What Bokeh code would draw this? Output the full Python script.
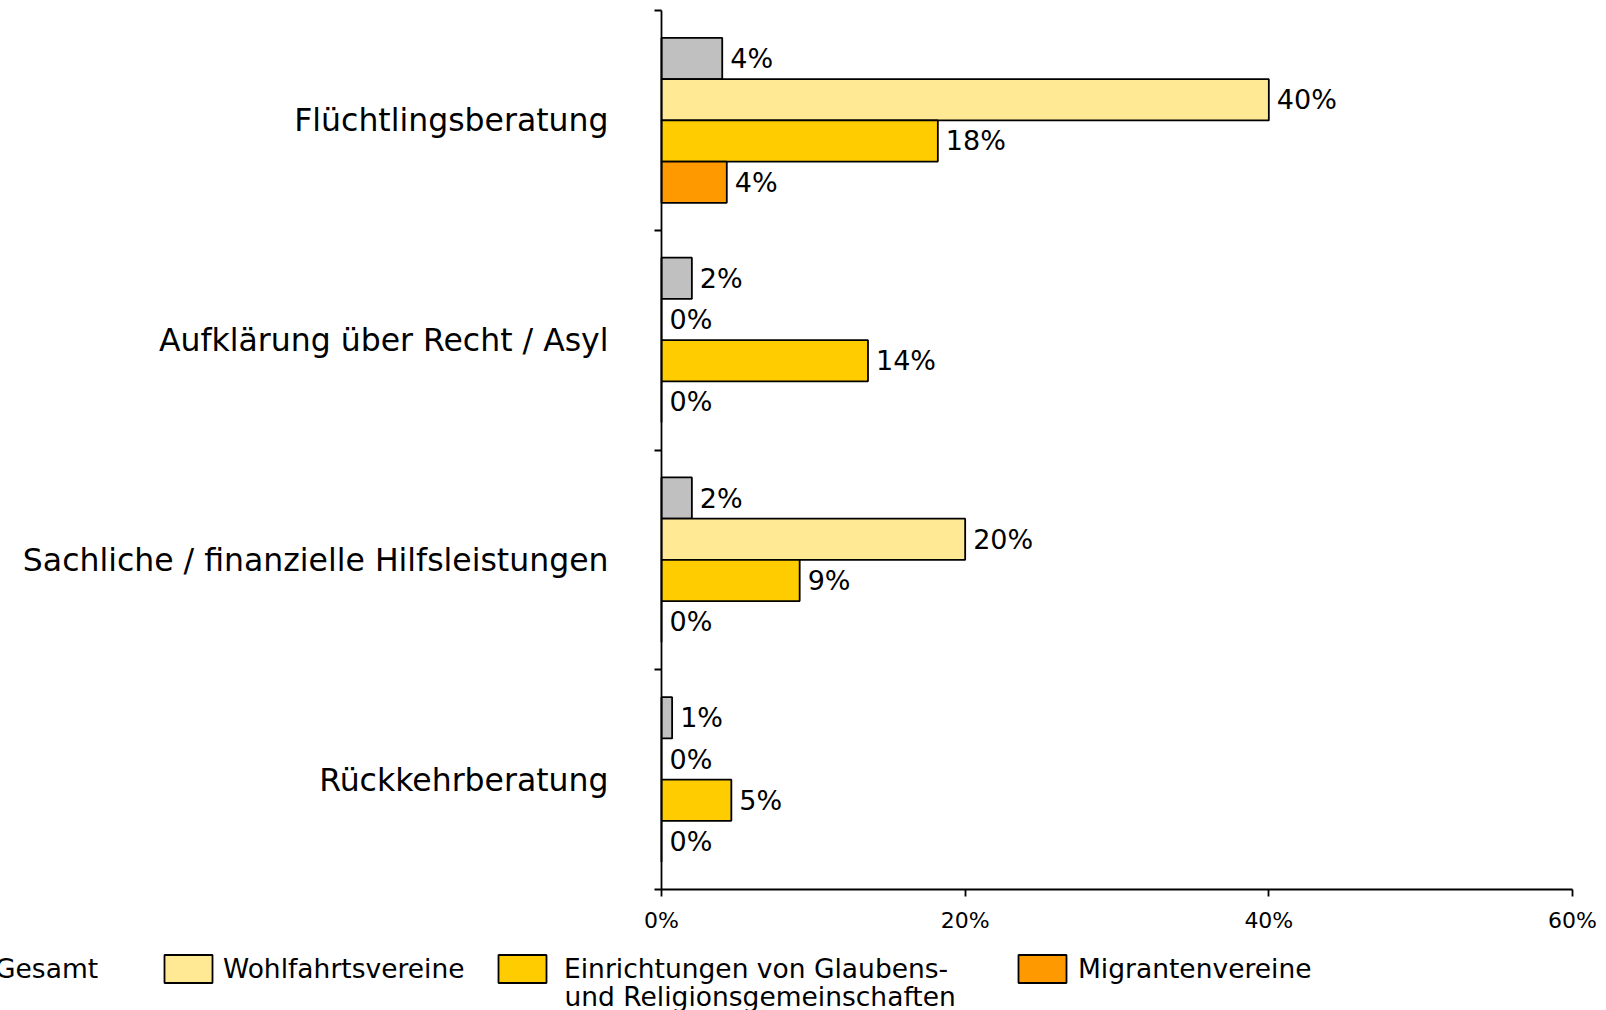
from bokeh.plotting import figure
from bokeh.models import (Range1d, FixedTicker, PrintfTickFormatter, ColumnDataSource,
                          Legend, LegendItem, Label, LinearAxis)
from bokeh.transform import dodge
from bokeh.core.properties import value
from bokeh.embed import file_html
from bokeh.resources import INLINE

# ---- data ----
categories = ["Flüchtlingsberatung", "Aufklärung über Recht / Asyl",
              "Sachliche / finanzielle Hilfsleistungen", "Rückkehrberatung"]
series_names = ["Gesamt", "Wohlfahrtsvereine", "Einrichtungen von Glaubens-", "Migrantenvereine"]
series_line2 = "und Religionsgemeinschaften"
gesamt = [4.0, 2.0, 2.0, 0.7]
wohlfahrt = [40.0, 0.0, 20.0, 0.0]
glaubens = [18.2, 13.6, 9.1, 4.6]
migranten = [4.3, 0.0, 0.0, 0.0]
x_ticks = [0, 20, 40, 60]

# ---- layout / style ----
FONT = "DejaVu Sans"
colors = ["#C0C0C0", "#FFE994", "#FFCC00", "#FF9900"]
offsets = [-0.28125, -0.09375, 0.09375, 0.28125]
bar_h = 0.1875
LW = 1.8
W, H = 1606, 1010
PL, PR, PT, PB = 661, 1572, 10, 889          # plot-area box in pixels
xmin, xmax = x_ticks[0], x_ticks[-1]
n = len(categories)
sx = (PR - PL) / (xmax - xmin)
sy = (PB - PT) / n
x_range = Range1d(xmin - PL / sx, xmax + (W - PR) / sx)
y_range = Range1d(n - 0.5 + (H - PB) / sy, -0.5 - PT / sy)

p = figure(width=W, height=H, min_border=0, x_range=x_range, y_range=y_range,
           x_axis_type=None, y_axis_type=None,
           output_backend="svg", toolbar_location=None, tools="")
p.xgrid.visible = False
p.ygrid.visible = False
p.outline_line_color = None
p.background_fill_color = "white"
p.border_fill_color = "white"

xa = LinearAxis(fixed_location=n - 0.5, bounds=(xmin, xmax))
xa.ticker = FixedTicker(ticks=x_ticks, minor_ticks=[])
xa.formatter = PrintfTickFormatter(format="%d%%")
xa.major_tick_out = 7
xa.major_tick_in = 0
xa.minor_tick_out = 0
xa.minor_tick_in = 0
xa.axis_line_width = LW
xa.major_tick_line_width = LW
xa.axis_line_color = "black"
xa.major_tick_line_color = "black"
xa.major_label_text_font = FONT
xa.major_label_text_font_size = "22px"
xa.major_label_text_color = "black"
xa.major_label_standoff = 11
p.add_layout(xa, "below")

idx = list(range(n))
ya = LinearAxis(fixed_location=xmin, bounds=(-0.5, n - 0.5))
ya.ticker = FixedTicker(ticks=idx, minor_ticks=[i - 0.5 for i in range(n + 1)])
ya.major_label_overrides = {i: c for i, c in zip(idx, categories)}
ya.major_tick_out = 0
ya.major_tick_in = 0
ya.minor_tick_out = 7
ya.minor_tick_in = 0
ya.minor_tick_line_color = "black"
ya.minor_tick_line_width = LW
ya.axis_line_width = LW
ya.axis_line_color = "black"
ya.major_label_text_font = FONT
ya.major_label_text_font_size = "31.5px"
ya.major_label_text_color = "black"
ya.major_label_standoff = 46
p.add_layout(ya, "left")

series = [gesamt, wohlfahrt, glaubens, migranten]
renderers = []
for vals, col, off in zip(series, colors, offsets):
    src = ColumnDataSource(dict(idx=idx, v=vals, label=[f"{round(v)}%" for v in vals]))
    r = p.hbar(y=dodge("idx", off, range=p.y_range), left=0, right="v", height=bar_h,
               fill_color=col, line_color="black", line_width=LW, source=src)
    p.text(x="v", y=dodge("idx", off, range=p.y_range), text="label", source=src,
           x_offset=8, text_baseline="middle", text_align="left",
           text_font=value(FONT), text_font_size="27px", text_color="black")
    renderers.append(r)

# ---- legend: one block per item, positioned in pixels ----
leg_x = [-70, 158, 492, 1012]
leg_standoff = [5, 5, 12, 6]
for name, r, lx, so in zip(series_names, renderers, leg_x, leg_standoff):
    lg = Legend(items=[LegendItem(label=name, renderers=[r])], location=(lx, 24),
                orientation="horizontal", padding=0, margin=0, spacing=0,
                border_line_color=None, background_fill_alpha=0,
                glyph_width=60, glyph_height=35, label_standoff=so,
                label_text_font=FONT, label_text_font_size="26.5px", label_text_color="black")
    p.add_layout(lg, "center")

p.add_layout(Label(x=564, y=14, x_units="screen", y_units="screen", text=series_line2,
                   text_font=FONT, text_font_size="26.5px", text_color="black",
                   text_baseline="middle", text_align="left"))

open("out.html", "w").write(file_html(p, INLINE))
